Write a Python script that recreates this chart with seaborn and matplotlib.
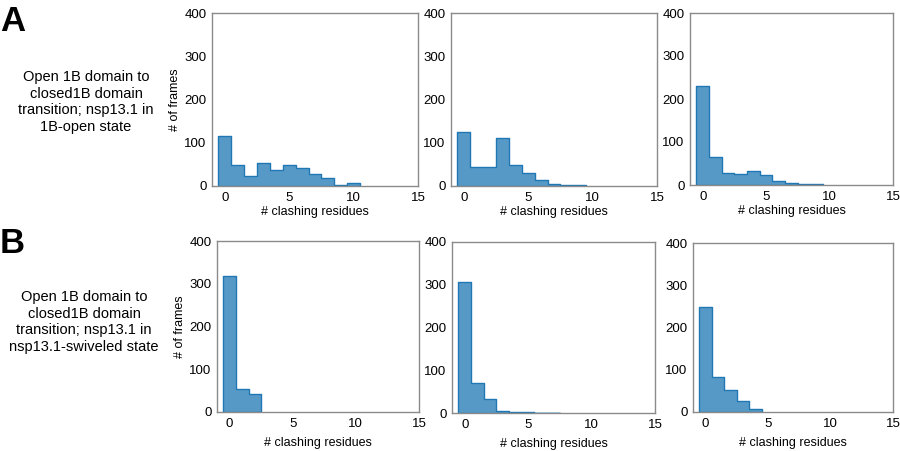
import numpy as np
import pandas as pd
import seaborn as sns
from matplotlib import pyplot as plt

# counts per integer number of clashing residues (bins centred on 0, 1, 2, ...)
a1_counts = [116, 49, 23, 53, 38, 49, 42, 27, 19, 3, 7]
a2_counts = [125, 44, 43, 110, 49, 31, 13, 5, 3, 1.5]
a3_counts = [230, 66, 27, 25, 33, 23, 9, 4, 2.5, 1.5]
b1_counts = [318, 53, 42]
b2_counts = [306, 70, 32, 5, 3, 1.5, 1, 1]
b3_counts = [249, 83, 51, 26, 8]

row_labels = [
    'Open 1B domain to\nclosed1B domain\ntransition; nsp13.1 in\n1B-open state',
    'Open 1B domain to\nclosed1B domain\ntransition; nsp13.1 in\nnsp13.1-swiveled state',
]
panel_letters = ['A', 'B']
x_ticks = [0, 5, 10, 15]
y_ticks = [0, 100, 200, 300, 400]

W, H = 900, 451
sns.set_style('white')
plt.rcParams['font.family'] = ['Liberation Sans', 'DejaVu Sans']
plt.rcParams['text.color'] = 'black'
plt.rcParams['axes.labelcolor'] = 'black'
plt.rcParams['xtick.color'] = 'black'
plt.rcParams['ytick.color'] = 'black'

fig = plt.figure(figsize=(W / 100, H / 100), dpi=100)


def px_axes(left, top, right, bottom):
    return fig.add_axes([left / W, 1 - bottom / H, (right - left) / W, (bottom - top) / H])


# axes boxes in pixels (left, top, right, bottom)
boxes = [
    [(212, 13, 418, 186), (451, 13, 657, 186), (690, 13, 893, 185)],
    [(217, 241, 419, 412), (452, 242, 655, 413), (693, 243, 893, 412)],
]
rows = [[a1_counts, a2_counts, a3_counts], [b1_counts, b2_counts, b3_counts]]

for r, (row_boxes, row_data) in enumerate(zip(boxes, rows)):
    for c, (box, counts) in enumerate(zip(row_boxes, row_data)):
        ax = px_axes(*box)
        df = pd.DataFrame({'clashes': np.arange(len(counts)), 'frames': counts})
        sns.histplot(data=df, x='clashes', weights='frames', discrete=True,
                     element='step', color='#1f77b4', alpha=0.75, linewidth=1, ax=ax)
        ax.set_xlim(-1, 15)
        ax.set_ylim(0, 400)
        ax.set_xticks(x_ticks)
        ax.set_yticks(y_ticks)
        ax.tick_params(labelsize=9.5, length=2, color='#808080', pad=2)
        for s in ax.spines.values():
            s.set_color('#8a8a8a')
            s.set_linewidth(1)
        ax.set_xlabel('# clashing residues', fontsize=9,
                      labelpad=2 if r == 0 else 5.5)
        if c == 0:
            ax.set_ylabel('# of frames', fontsize=9, labelpad=2)
        else:
            ax.set_ylabel('')

fig.text(86 / W, 1 - 102 / H, row_labels[0], ha='center', va='center',
         fontsize=10.5, linespacing=1.22)
fig.text(84 / W, 1 - 322 / H, row_labels[1], ha='center', va='center',
         fontsize=10.5, linespacing=1.22)
fig.text(0, 1 - 5 / H, panel_letters[0], ha='left', va='top',
         fontsize=25, fontweight='bold')
fig.text(0, 1 - 227 / H, panel_letters[1], ha='left', va='top',
         fontsize=25, fontweight='bold')

plt.savefig('out.png', dpi=100)
